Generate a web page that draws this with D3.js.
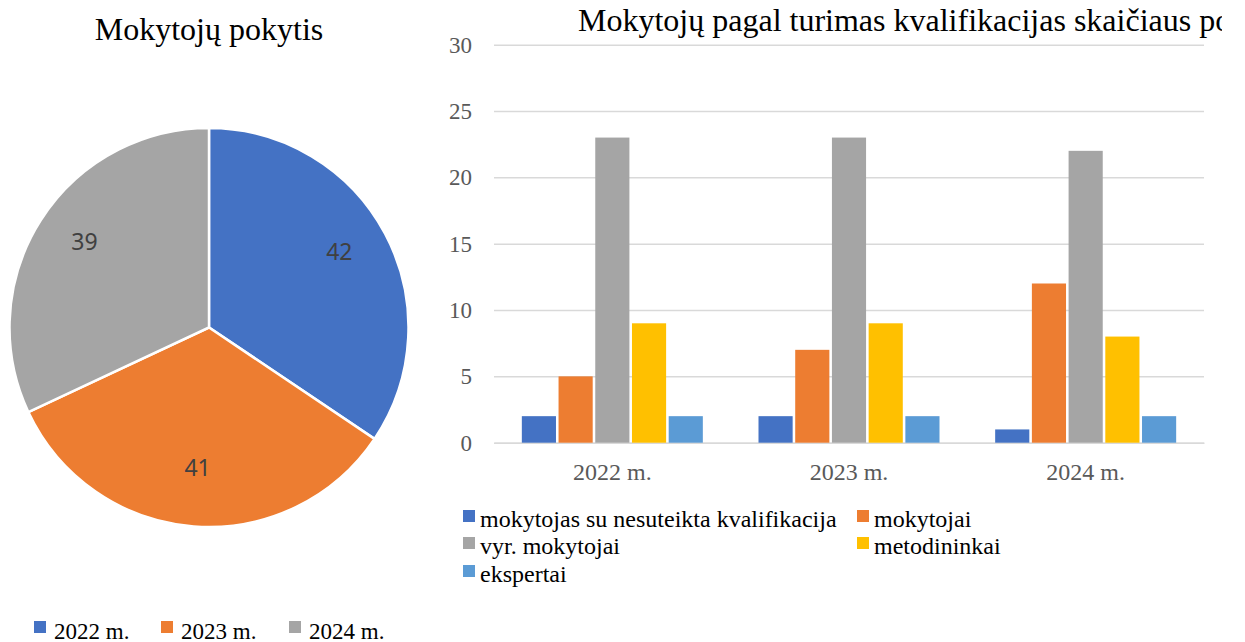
<!DOCTYPE html>
<html>
<head>
<meta charset="utf-8">
<script src="https://cdn.jsdelivr.net/npm/d3@7"></script>
<style>
  body { margin: 0; background: #fff; }
  svg { display: block; }
</style>
</head>
<body>
<div id="container"></div>
<script>
// pie data
var years = ["2022 m.", "2023 m.", "2024 m."];
var totals = [42, 41, 39];
var pieColors = ["#4472c4", "#ed7d31", "#a5a5a5"];

// bar data
var series = ["mokytojas su nesuteikta kvalifikacija", "mokytojai", "vyr. mokytojai", "metodininkai", "ekspertai"];
var seriesColors = ["#4472c4", "#ed7d31", "#a5a5a5", "#ffc000", "#5b9bd5"];
var values = [
  [2, 2, 1],    // nesuteikta
  [5, 7, 12],   // mokytojai
  [23, 23, 22], // vyr. mokytojai
  [9, 9, 8],    // metodininkai
  [2, 2, 2]     // ekspertai
];
var yTicks = [0, 5, 10, 15, 20, 25, 30];

var width = 1245, height = 642;
var serif = "'Liberation Serif', 'Times New Roman', serif";

var svg = d3.select("#container").append("svg")
  .attr("width", width)
  .attr("height", height);

// ---------- pie ----------
var cx = 209, cy = 327.5, r = 199.5;

svg.append("text")
  .attr("x", cx).attr("y", 40)
  .attr("text-anchor", "middle")
  .style("font-family", serif).style("font-size", "32px").style("fill", "#000")
  .text("Mokytojų pokytis");

var pie = d3.pie().sort(null).value(function(d) { return d; });
var arc = d3.arc().innerRadius(0).outerRadius(r);
var labelArc = d3.arc().innerRadius(r * 0.74).outerRadius(r * 0.74);

var pg = svg.append("g").attr("transform", "translate(" + cx + "," + cy + ")");
var arcs = pie(totals);

pg.selectAll("path").data(arcs).enter().append("path")
  .attr("d", arc)
  .attr("fill", function(d, i) { return pieColors[i]; })
  .attr("stroke", "#fff").attr("stroke-width", 2.5);

pg.selectAll("text").data(arcs).enter().append("text")
  .attr("transform", function(d) { return "translate(" + labelArc.centroid(d) + ")"; })
  .attr("text-anchor", "middle").attr("dy", "0.06em")
  .style("font-family", "'Noto Sans', 'Open Sans', sans-serif").style("font-size", "23px").style("fill", "#404040")
  .text(function(d) { return d.data; });

var pieLegendX = [34, 161, 289];
var pl = svg.selectAll(".pl").data(years).enter().append("g")
  .attr("transform", function(d, i) { return "translate(" + pieLegendX[i] + ",633)"; });
pl.append("rect").attr("x", 0).attr("y", -12).attr("width", 12).attr("height", 12)
  .attr("fill", function(d, i) { return pieColors[i]; });
pl.append("text").attr("x", 20).attr("y", 6)
  .style("font-family", serif).style("font-size", "23px").style("fill", "#000")
  .text(function(d) { return d; });

// ---------- bar chart ----------
var left = 494, right = 1204, plotTop = 44.7, bottom = 442.7;

var clip = svg.append("clipPath").attr("id", "titleclip");
clip.append("rect").attr("x", 430).attr("y", 0).attr("width", 792).attr("height", 60);

svg.append("text")
  .attr("x", 578).attr("y", 31)
  .attr("clip-path", "url(#titleclip)")
  .style("font-family", serif).style("font-size", "32px").style("fill", "#000")
  .text("Mokytojų pagal turimas kvalifikacijas skaičiaus pokytis");

var x0 = d3.scaleBand().domain(years).range([left, right]).paddingInner(0).paddingOuter(0);
var groupW = 181;
var x1 = d3.scaleBand().domain(d3.range(series.length))
  .range([0, groupW]).paddingInner(0.07).paddingOuter(0);
var y = d3.scaleLinear().domain([0, 30]).range([bottom, plotTop]);

var yAxis = d3.axisLeft(y).tickValues(yTicks).tickSize(-(right - left)).tickPadding(22);
var ga = svg.append("g").attr("transform", "translate(" + left + ",0)").call(yAxis);
ga.select(".domain").remove();
ga.selectAll(".tick line").attr("stroke", "#d9d9d9").attr("stroke-width", 1.5);
ga.selectAll(".tick text")
  .style("font-family", serif).style("font-size", "23px").style("fill", "#595959");

var xAxis = d3.axisBottom(x0).tickSize(0).tickPadding(20);
var gx = svg.append("g").attr("transform", "translate(0," + bottom + ")").call(xAxis);
gx.select(".domain").attr("stroke", "#d9d9d9").attr("stroke-width", 1.5);
gx.selectAll(".tick text")
  .style("font-family", serif).style("font-size", "24px").style("fill", "#595959");

var groups = svg.selectAll(".grp").data(years).enter().append("g")
  .attr("transform", function(d) {
    return "translate(" + (x0(d) + (x0.bandwidth() - groupW) / 2) + ",0)";
  });

groups.selectAll("rect")
  .data(function(d, j) { return values.map(function(v, s) { return { s: s, v: v[j] }; }); })
  .enter().append("rect")
  .attr("x", function(d) { return x1(d.s); })
  .attr("y", function(d) { return y(d.v); })
  .attr("width", x1.bandwidth())
  .attr("height", function(d) { return bottom - y(d.v); })
  .attr("fill", function(d) { return seriesColors[d.s]; });

// legend
var legPos = [[463, 522], [857, 522], [463, 549], [857, 549], [463, 577]];
var bl = svg.selectAll(".bl").data(series).enter().append("g")
  .attr("transform", function(d, i) { return "translate(" + legPos[i][0] + "," + legPos[i][1] + ")"; });
bl.append("rect").attr("x", 0).attr("y", -12).attr("width", 12).attr("height", 12)
  .attr("fill", function(d, i) { return seriesColors[i]; });
bl.append("text").attr("x", 17).attr("y", 5)
  .style("font-family", serif).style("font-size", "24px").style("fill", "#000")
  .text(function(d) { return d; });
</script>
</body>
</html>
